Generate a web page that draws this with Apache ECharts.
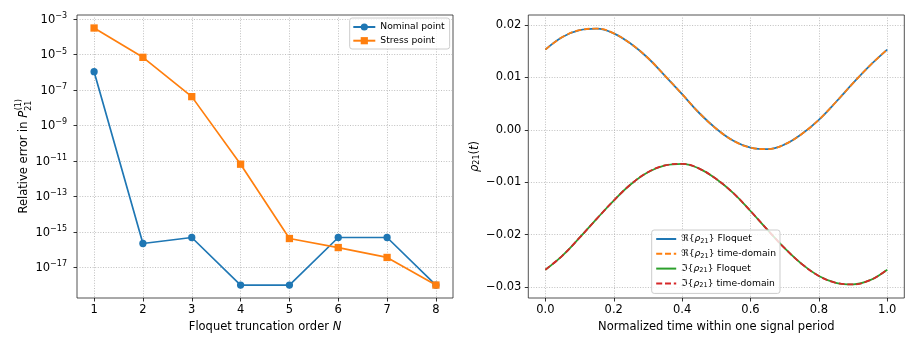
<!DOCTYPE html>
<html><head><meta charset="utf-8">
<script src="https://cdn.jsdelivr.net/npm/echarts@6/dist/echarts.min.js"></script>
<style>html,body{margin:0;padding:0;background:#fff}#c{width:917px;height:350px}</style>
</head><body><div id="c"></div>
<script>
// ---------- data: left panel ----------
const truncationOrders = [1, 2, 3, 4, 5, 6, 7, 8];
const nominalError = [1.07e-6, 2.2e-16, 4.8e-16, 1.0e-18, 1.0e-18, 4.8e-16, 4.8e-16, 1.0e-18];
const stressError  = [3.1e-4, 6.9e-6, 4.2e-8, 6.5e-12, 4.2e-16, 1.3e-16, 3.6e-17, 1.0e-18];
const errTickExponents = [-17, -15, -13, -11, -9, -7, -5, -3];
const orderTicks = [1, 2, 3, 4, 5, 6, 7, 8];

// ---------- data: right panel ----------
const timePoints = [0, 0.05, 0.1, 0.15, 0.2, 0.25, 0.3, 0.35, 0.4, 0.45, 0.5, 0.55, 0.6, 0.65, 0.7, 0.75, 0.8, 0.85, 0.9, 0.95, 1.0];
const reFloquet    = [0.0153, 0.0177, 0.0190, 0.0193, 0.0184, 0.0164, 0.0137, 0.0103, 0.0068, 0.0032, 0.0002, -0.0021, -0.0034, -0.0037, -0.0028, -0.0008, 0.0019, 0.0053, 0.0089, 0.0123, 0.0153];
const reTimeDomain = [0.0153, 0.0177, 0.0190, 0.0193, 0.0184, 0.0164, 0.0137, 0.0103, 0.0068, 0.0032, 0.0002, -0.0021, -0.0034, -0.0037, -0.0028, -0.0008, 0.0019, 0.0053, 0.0089, 0.0123, 0.0153];
const imFloquet    = [-0.0267, -0.0240, -0.0206, -0.0170, -0.0135, -0.0104, -0.0081, -0.0068, -0.0065, -0.0074, -0.0094, -0.0121, -0.0155, -0.0191, -0.0226, -0.0256, -0.0279, -0.0292, -0.0295, -0.0287, -0.0267];
const imTimeDomain = [-0.0267, -0.0240, -0.0206, -0.0170, -0.0135, -0.0104, -0.0081, -0.0068, -0.0065, -0.0074, -0.0094, -0.0121, -0.0155, -0.0191, -0.0226, -0.0256, -0.0279, -0.0292, -0.0295, -0.0287, -0.0267];
const rhoTicks = [-0.03, -0.02, -0.01, 0.0, 0.01, 0.02];
const timeTicks = [0.0, 0.2, 0.4, 0.6, 0.8, 1.0];

const legendLabels = {
  'reF': '\u211C{{i|ρ}{sub|21}} Floquet',
  'reT': '\u211C{{i|ρ}{sub|21}} time-domain',
  'imF': '\u2111{{i|ρ}{sub|21}} Floquet',
  'imT': '\u2111{{i|ρ}{sub|21}} time-domain'
};

const FONT = 'DejaVu Sans';
const FS = 11.5;
const BLUE = '#1f77b4', ORANGE = '#ff7f0e', GREEN = '#2ca02c', RED = '#d62728';

const mctx = document.createElement('canvas').getContext('2d');
function tw(text, size, italic) { mctx.font = (italic ? 'italic ' : '') + size + 'px "' + FONT + '"'; return mctx.measureText(text).width; }

const splitLine = { show: true, lineStyle: { color: '#b0b0b0', width: 0.8, type: [1, 1.6] } };
const axisTick = (vals) => ({ show: true, length: 3.5, customValues: vals, lineStyle: { color: '#000', width: 0.8 } });
const noLine = { show: false, onZero: false };

// left y-label (stacked sub/sup)
const main = 'Relative error in ';
const w1 = tw(main, FS, false), wP = tw('P', FS, true), w21 = tw('21', 8, false), wS = tw('(1)', 8, false);
const W = w1 + wP + Math.max(w21, wS);
const x0 = -W / 2;
const tstyle = (text, size, italic) => ({ text, fontSize: size, fontFamily: FONT, fontStyle: italic ? 'italic' : 'normal', fill: '#000', align: 'left', verticalAlign: 'middle', textAlign: 'left', textVerticalAlign: 'middle' });

const chart = echarts.init(document.getElementById('c'), null, { renderer: 'canvas' });
chart.setOption({
  animation: false,
  backgroundColor: '#fff',
  grid: [
    { left: 77, top: 15, width: 376, height: 283, show: true, borderColor: '#262626', borderWidth: 0.8, backgroundColor: 'transparent', containLabel: false, outerBoundsMode: 'none' },
    { left: 528.3, top: 15, width: 376, height: 283, show: true, borderColor: '#262626', borderWidth: 0.8, backgroundColor: 'transparent', containLabel: false, outerBoundsMode: 'none' }
  ],
  xAxis: [
    { gridIndex: 0, type: 'value', min: 0.65, max: 8.35,
      axisLine: noLine, axisTick: axisTick(orderTicks), splitLine,
      axisLabel: { customValues: orderTicks, color: '#000', fontSize: FS, fontFamily: FONT, margin: 6 },
      name: 'Floquet truncation order {i|N}', nameLocation: 'middle', nameGap: 23,
      nameTextStyle: { color: '#000', fontSize: FS, fontFamily: FONT, rich: { i: { fontStyle: 'italic', fontSize: FS, fontFamily: FONT, color: '#000' } } } },
    { gridIndex: 1, type: 'value', min: -0.05, max: 1.05,
      axisLine: noLine, axisTick: axisTick(timeTicks), splitLine,
      axisLabel: { customValues: timeTicks, color: '#000', fontSize: FS, fontFamily: FONT, margin: 6, formatter: v => v.toFixed(1) },
      name: 'Normalized time within one signal period', nameLocation: 'middle', nameGap: 23,
      nameTextStyle: { color: '#000', fontSize: FS, fontFamily: FONT } }
  ],
  yAxis: [
    { gridIndex: 0, type: 'log', logBase: 10, min: Math.pow(10, -18.73), max: Math.pow(10, -2.775),
      axisLine: noLine, axisTick: axisTick(errTickExponents.map(e => Math.pow(10, e))), splitLine,
      axisLabel: { customValues: errTickExponents.map(e => Math.pow(10, e)), color: '#000', fontSize: FS, fontFamily: FONT, margin: 10,
        formatter: v => { const e = Math.round(Math.log10(v)); return '{b|10}{sup|' + (e < 0 ? '\u2212' : '') + Math.abs(e) + '}'; },
        rich: { b: { fontSize: FS, fontFamily: FONT, color: '#000', padding: [1.5, 0, 0, 0] },
                sup: { fontSize: 8, fontFamily: FONT, color: '#000', padding: [0, 0, 6, 0] } } } },
    { gridIndex: 1, type: 'value', min: -0.0321, max: 0.0219,
      axisLine: noLine, axisTick: axisTick(rhoTicks), splitLine,
      axisLabel: { customValues: rhoTicks, color: '#000', fontSize: FS, fontFamily: FONT, margin: 7, formatter: v => v.toFixed(2).replace('-', '\u2212') },
      name: '{i|ρ}{sub|21}({i|t})', nameLocation: 'middle', nameGap: 47, nameRotate: 90,
      nameTextStyle: { color: '#000', fontSize: FS, fontFamily: FONT,
        rich: { i: { fontStyle: 'italic', fontSize: FS, fontFamily: FONT, color: '#000' }, sub: { fontSize: 8, fontFamily: FONT, color: '#000', padding: [5, 0, 0, 0] } } } }
  ],
  legend: [
    { data: ['Nominal point', 'Stress point'], orient: 'vertical', left: 349.7, top: 18,
      itemWidth: 22, itemHeight: 9, itemGap: 2.7, padding: [3.5, 5, 2.8, 2.6],
      backgroundColor: 'rgba(255,255,255,0.8)', borderColor: '#cccccc', borderWidth: 1, borderRadius: 2.5,
      textStyle: { fontSize: 9.2, fontFamily: FONT, color: '#000', lineHeight: 11 } },
    { data: ['reF', 'reT', 'imF', 'imT'], orient: 'vertical', left: 651.7, top: 230,
      itemWidth: 20, itemHeight: 10, itemGap: 2.8, padding: [3, 4, 4, 3.5],
      itemStyle: { opacity: 0 },
      backgroundColor: 'rgba(255,255,255,0.8)', borderColor: '#cccccc', borderWidth: 1, borderRadius: 2.5,
      formatter: n => legendLabels[n],
      textStyle: { fontSize: 9.2, fontFamily: FONT, color: '#000', lineHeight: 12,
        rich: { i: { fontStyle: 'italic', fontSize: 9.2, fontFamily: FONT, color: '#000', lineHeight: 12 },
                sub: { fontSize: 6.6, fontFamily: FONT, color: '#000', padding: [4, 0, 0, 0], lineHeight: 12 } } } }
  ],
  graphic: [
    { type: 'group', x: 24, y: 156.5, rotation: Math.PI / 2, silent: true,
      children: [
        { type: 'text', x: x0, y: 0, style: tstyle(main, FS, false) },
        { type: 'text', x: x0 + w1, y: 0, style: tstyle('P', FS, true) },
        { type: 'text', x: x0 + w1 + wP, y: 4.5, style: tstyle('21', 8, false) },
        { type: 'text', x: x0 + w1 + wP + 0.5, y: -5.5, style: tstyle('(1)', 8, false) }
      ] }
  ],
  series: [
    { name: 'Nominal point', type: 'line', xAxisIndex: 0, yAxisIndex: 0,
      data: truncationOrders.map((n, i) => [n, nominalError[i]]),
      symbol: 'circle', symbolSize: 7.3, lineStyle: { color: BLUE, width: 1.7 }, itemStyle: { color: BLUE } },
    { name: 'Stress point', type: 'line', xAxisIndex: 0, yAxisIndex: 0,
      data: truncationOrders.map((n, i) => [n, stressError[i]]),
      symbol: 'rect', symbolSize: 7.3, lineStyle: { color: ORANGE, width: 1.7 }, itemStyle: { color: ORANGE } },
    { name: 'reF', type: 'line', xAxisIndex: 1, yAxisIndex: 1, smooth: 0.4, symbol: 'none', showSymbol: false,
      data: timePoints.map((t, i) => [t, reFloquet[i]]), lineStyle: { color: BLUE, width: 1.8 }, itemStyle: { color: BLUE } },
    { name: 'reT', type: 'line', xAxisIndex: 1, yAxisIndex: 1, smooth: 0.4, symbol: 'none', showSymbol: false,
      data: timePoints.map((t, i) => [t, reTimeDomain[i]]), lineStyle: { color: ORANGE, width: 1.8, type: [6, 2.8] }, itemStyle: { color: ORANGE } },
    { name: 'imF', type: 'line', xAxisIndex: 1, yAxisIndex: 1, smooth: 0.4, symbol: 'none', showSymbol: false,
      data: timePoints.map((t, i) => [t, imFloquet[i]]), lineStyle: { color: GREEN, width: 1.8 }, itemStyle: { color: GREEN } },
    { name: 'imT', type: 'line', xAxisIndex: 1, yAxisIndex: 1, smooth: 0.4, symbol: 'none', showSymbol: false,
      data: timePoints.map((t, i) => [t, imTimeDomain[i]]), lineStyle: { color: RED, width: 1.8, type: [6, 2.8] }, itemStyle: { color: RED } }
  ]
});
</script></body></html>
